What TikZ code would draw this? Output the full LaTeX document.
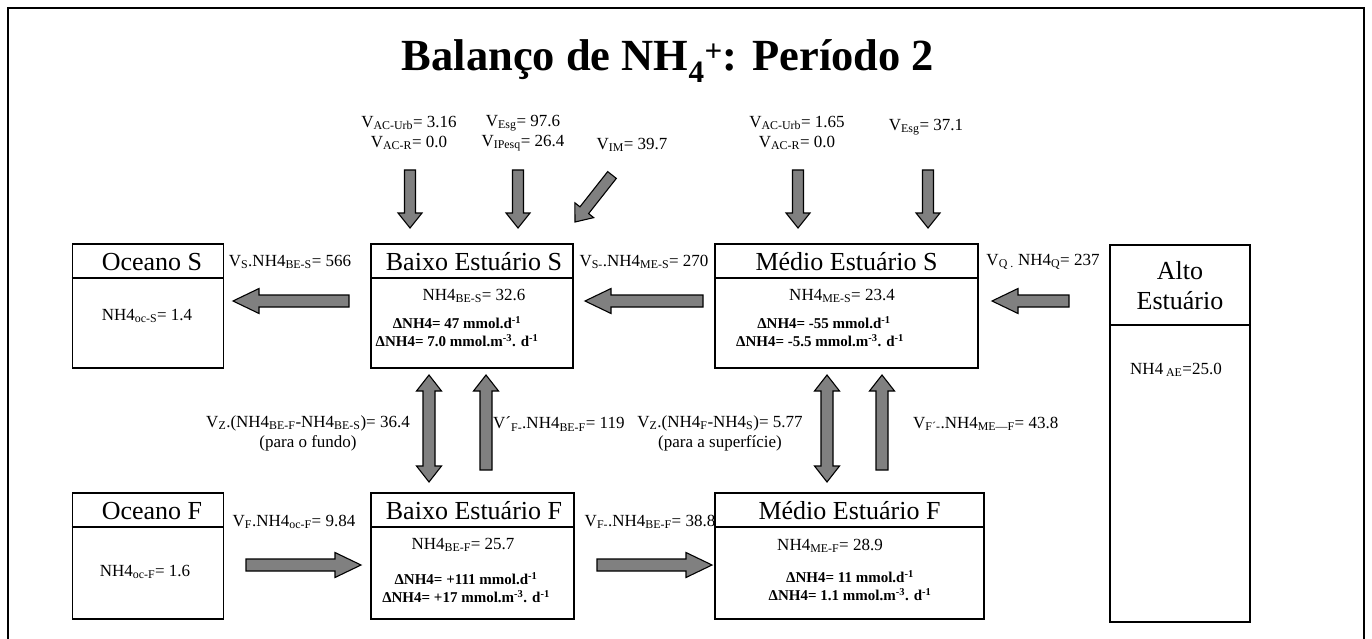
\documentclass[tikz,border=0pt]{standalone}
\usepackage{fontspec}
\setmainfont{Liberation Serif}
\usetikzlibrary{calc}
\newcommand{\sbs}[1]{\textsubscript{#1}}
\newcommand{\sps}[1]{\textsuperscript{#1}}
\newcommand{\blockarrow}[5]{%
  \coordinate (hb) at ($(#2)!#5!(#1)$);
  \draw[arr] ($(#1)!#3!90:(#2)$) -- ($(hb)!#3!90:(#2)$) -- ($(hb)!#4!90:(#2)$) -- (#2)
    -- ($(hb)!#4!-90:(#2)$) -- ($(hb)!#3!-90:(#2)$) -- ($(#1)!#3!-90:(#2)$) -- cycle;}
\newcommand{\dblarrow}[5]{%
  \coordinate (ha) at ($(#1)!#5!(#2)$);
  \coordinate (hb) at ($(#2)!#5!(#1)$);
  \draw[arr] (#1) -- ($(ha)!#4!90:(#2)$) -- ($(ha)!#3!90:(#2)$) -- ($(hb)!#3!90:(#2)$)
    -- ($(hb)!#4!90:(#2)$) -- (#2) -- ($(hb)!#4!-90:(#2)$) -- ($(hb)!#3!-90:(#2)$)
    -- ($(ha)!#3!-90:(#2)$) -- ($(ha)!#4!-90:(#2)$) -- cycle;}
\definecolor{arrgray}{RGB}{128,128,128}
\tikzset{
  arr/.style={draw=black, fill=arrgray, line width=1.1pt, line join=miter},
  box/.style={draw=black, line width=1.6pt, inner sep=0pt},
  boxline/.style={draw=black, line width=1.6pt},
  lbl/.style={font=\fontsize{17}{20}\selectfont, inner sep=0pt, align=center},
  val/.style={font=\fontsize{17}{20}\selectfont, inner sep=0pt},
  hdr/.style={font=\fontsize{26}{30}\selectfont, inner sep=0pt, align=center},
  bld/.style={font=\fontsize{15}{17}\selectfont\bfseries, inner sep=0pt},
  ttl/.style={font=\fontsize{44.5}{52}\selectfont\bfseries, inner sep=0pt}
}
\begin{document}
\begin{tikzpicture}[x=1pt, y=-1pt]
\useasboundingbox (0,0) rectangle (1372,639);
% frame
\draw[line width=2pt] (8,645) -- (8,8) -- (1364,8) -- (1364,645);
% title
\node[ttl, anchor=base] (title) at (668,71) {Balanço de NH\sbs{4}\sps{+}: Período 2};

% header line levels
\coordinate (hS) at (0,278);
\coordinate (hF) at (0,527);
\coordinate (hA) at (0,325);

% boxes S row
\node[box, minimum width=151pt, minimum height=124pt] (oceS) at (148,306) {};
\node[box, minimum width=202pt, minimum height=124pt] (baixoS) at (472,306) {};
\node[box, minimum width=263pt, minimum height=124pt] (medioS) at (846.5,306) {};
\node[box, minimum width=140pt, minimum height=377pt] (alto) at (1180,433.5) {};
% boxes F row
\node[box, minimum width=151pt, minimum height=126pt] (oceF) at (148,556) {};
\node[box, minimum width=203pt, minimum height=126pt] (baixoF) at (472.5,556) {};
\node[box, minimum width=269pt, minimum height=126pt] (medioF) at (849.5,556) {};

\draw[boxline] (oceS.west |- hS) -- (oceS.east |- hS);
\draw[boxline] (baixoS.west |- hS) -- (baixoS.east |- hS);
\draw[boxline] (medioS.west |- hS) -- (medioS.east |- hS);
\draw[boxline] (alto.west |- hA) -- (alto.east |- hA);
\draw[boxline] (oceF.west |- hF) -- (oceF.east |- hF);
\draw[boxline] (baixoF.west |- hF) -- (baixoF.east |- hF);
\draw[boxline] (medioF.west |- hF) -- (medioF.east |- hF);

% headers
\node[hdr] (hOceS) at (152,262) {Oceano S};
\node[hdr] (hBaiS) at (474,262) {Baixo Estuário S};
\node[hdr] (hMedS) at (846.5,262) {Médio Estuário S};
\node[hdr] (hAlto) at (1180,286) {Alto\\Estuário};
\node[hdr] (hOceF) at (152,511) {Oceano F};
\node[hdr] (hBaiF) at (474,511) {Baixo Estuário F};
\node[hdr] (hMedF) at (849.5,511) {Médio Estuário F};

% contents
\node[val] (cOceS) at (147,316) {NH4\sbs{oc-S}= 1.4};
\node[val] (cBaiS) at (474,296) {NH4\sbs{BE-S}= 32.6};
\node[bld] (dBaiS1) at (457,323) {ΔNH4= 47 mmol.d\sps{-1}};
\node[bld] (dBaiS2) at (457,341) {ΔNH4= 7.0 mmol.m\sps{-3}. d\sps{-1}};
\node[val] (cMedS) at (842,296) {NH4\sbs{ME-S}= 23.4};
\node[bld] (dMedS1) at (824,323) {ΔNH4= -55 mmol.d\sps{-1}};
\node[bld] (dMedS2) at (820,341) {ΔNH4= -5.5 mmol.m\sps{-3}. d\sps{-1}};
\node[val] (cAlto) at (1176,370) {NH4\,\sbs{AE}=25.0};
\node[val] (cOceF) at (145,572) {NH4\sbs{oc-F}= 1.6};
\node[val] (cBaiF) at (463,545) {NH4\sbs{BE-F}= 25.7};
\node[bld] (dBaiF1) at (466,579) {ΔNH4= +111 mmol.d\sps{-1}};
\node[bld] (dBaiF2) at (466,597) {ΔNH4= +17 mmol.m\sps{-3}. d\sps{-1}};
\node[val] (cMedF) at (830,546) {NH4\sbs{ME-F}= 28.9};
\node[bld] (dMedF1) at (850,577) {ΔNH4= 11 mmol.d\sps{-1}};
\node[bld] (dMedF2) at (850,595) {ΔNH4= 1.1 mmol.m\sps{-3}. d\sps{-1}};

% top labels
\node[lbl] (tAC1) at (409,133) {V\sbs{AC-Urb}= 3.16\\V\sbs{AC-R}= 0.0};
\node[lbl] (tE1) at (523,133) {V\sbs{Esg}= 97.6\\V\sbs{IPesq}= 26.4};
\node[lbl] (tIM) at (632,145) {V\sbs{IM}= 39.7};
\node[lbl] (tAC2) at (797,133) {V\sbs{AC-Urb}= 1.65\\V\sbs{AC-R}= 0.0};
\node[lbl] (tE2) at (926,127) {V\sbs{Esg}= 37.1};

% flow labels
\node[lbl] (lBS) at (290,262) {V\sbs{S}.NH4\sbs{BE-S}= 566};
\node[lbl] (lMS) at (644,262) {V\sbs{S-}.NH4\sbs{ME-S}= 270};
\node[lbl] (lQ) at (1043,262) {V\sbs{Q .} NH4\sbs{Q}= 237};
\node[lbl] (lZB) at (308,433) {V\sbs{Z}.(NH4\sbs{BE-F}-NH4\sbs{BE-S})= 36.4\\(para o fundo)};
\node[lbl, anchor=west] (lFB) at (493,424) {V´\sbs{F-}.NH4\sbs{BE-F}= 119};
\node[lbl] (lZM) at (720,433) {V\sbs{Z}.(NH4\sbs{F}-NH4\sbs{S})= 5.77\\(para a superfície)};
\node[lbl, anchor=west] (lFM) at (913,424) {V\sbs{F´-}.NH4\sbs{ME—F}= 43.8};
\node[lbl] (lFoc) at (294,522) {V\sbs{F}.NH4\sbs{oc-F}= 9.84};
\node[lbl] (lFBE) at (650,522) {V\sbs{F-}.NH4\sbs{BE-F}= 38.8};

% arrow end points
\coordinate (d1s) at (410,170); \coordinate (d1e) at (410,228);
\coordinate (d2s) at (518,170); \coordinate (d2e) at (518,228);
\coordinate (d3s) at (798,170); \coordinate (d3e) at (798,228);
\coordinate (d4s) at (928,170); \coordinate (d4e) at (928,228);
\coordinate (dgs) at (612,175); \coordinate (dge) at (575,222);
\coordinate (a1s) at (349,301); \coordinate (a1e) at (233,301);
\coordinate (a2s) at (703,301); \coordinate (a2e) at (585,301);
\coordinate (a3s) at (1069,301); \coordinate (a3e) at (992,301);
\coordinate (a4s) at (246,565); \coordinate (a4e) at (361,565);
\coordinate (a5s) at (597,565); \coordinate (a5e) at (712,565);
\coordinate (v1s) at (429,375); \coordinate (v1e) at (429,482);
\coordinate (u1s) at (486,470); \coordinate (u1e) at (486,375);
\coordinate (v2s) at (827,375); \coordinate (v2e) at (827,482);
\coordinate (u2s) at (882,470); \coordinate (u2e) at (882,375);

\blockarrow{d1s}{d1e}{5.5pt}{12pt}{15pt}
\blockarrow{d2s}{d2e}{5.5pt}{12pt}{15pt}
\blockarrow{d3s}{d3e}{5.5pt}{12pt}{15pt}
\blockarrow{d4s}{d4e}{5.5pt}{12pt}{15pt}
\blockarrow{dgs}{dge}{5.5pt}{12pt}{15pt}
\blockarrow{a1s}{a1e}{6pt}{12.5pt}{26pt}
\blockarrow{a2s}{a2e}{6pt}{12.5pt}{26pt}
\blockarrow{a3s}{a3e}{6pt}{12.5pt}{26pt}
\blockarrow{a4s}{a4e}{6pt}{12.5pt}{26pt}
\blockarrow{a5s}{a5e}{6pt}{12.5pt}{26pt}
\dblarrow{v1s}{v1e}{6pt}{12.5pt}{16pt}
\blockarrow{u1s}{u1e}{6pt}{12.5pt}{16pt}
\dblarrow{v2s}{v2e}{6pt}{12.5pt}{16pt}
\blockarrow{u2s}{u2e}{6pt}{12.5pt}{16pt}
\end{tikzpicture}
\end{document}
